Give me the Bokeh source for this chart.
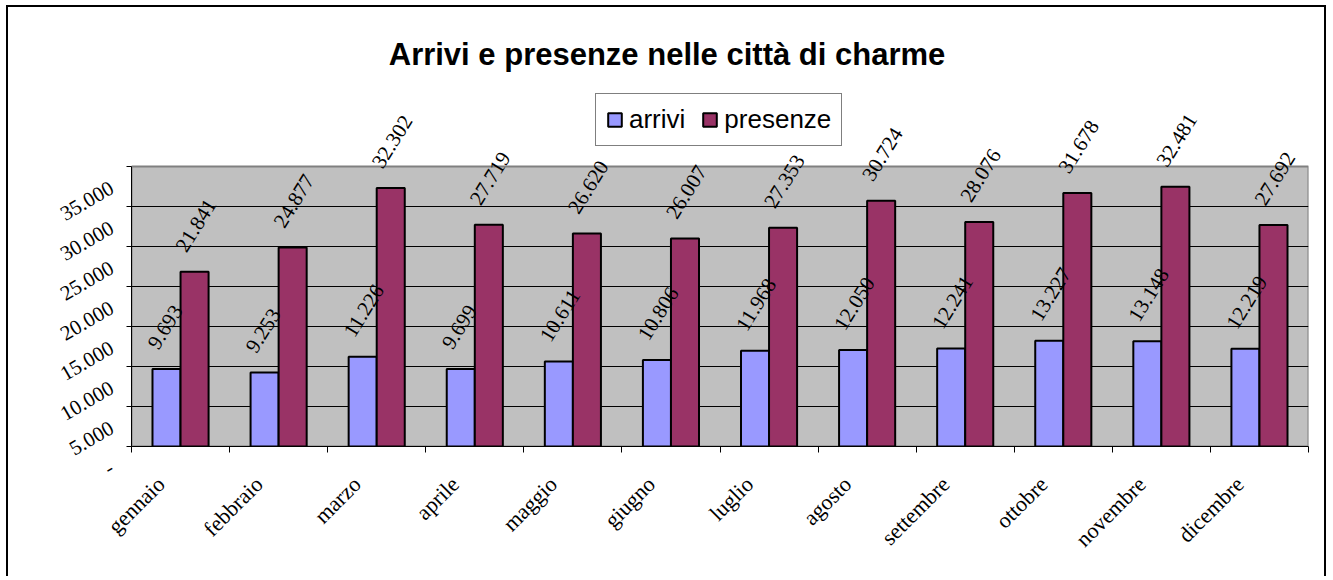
import math
from bokeh.plotting import figure
from bokeh.models import (Range1d, FixedTicker, ColumnDataSource, Legend, LegendItem,
                          LabelSet, Label)
from bokeh.embed import file_html
from bokeh.resources import INLINE

# ---------------- data ----------------
months = ["gennaio", "febbraio", "marzo", "aprile", "maggio", "giugno",
          "luglio", "agosto", "settembre", "ottobre", "novembre", "dicembre"]
arrivi = [9693, 9253, 11226, 9699, 10611, 10806, 11968, 12050, 12241, 13227, 13148, 12219]
presenze = [21841, 24877, 32302, 27719, 26620, 26007, 27353, 30724, 28076, 31678, 32481, 27692]
arrivi_labels = ["9.693", "9.253", "11.226", "9.699", "10.611", "10.806",
                 "11.968", "12.050", "12.241", "13.227", "13.148", "12.219"]
presenze_labels = ["21.841", "24.877", "32.302", "27.719", "26.620", "26.007",
                   "27.353", "30.724", "28.076", "31.678", "32.481", "27.692"]
y_ticks = [0, 5000, 10000, 15000, 20000, 25000, 30000, 35000]
y_tick_labels = ["-", "5.000", "10.000", "15.000", "20.000", "25.000", "30.000", "35.000"]
title_text = "Arrivi e presenze nelle città di charme"

# ---------------- layout ----------------
W, H = 1320, 571
FRAME_H = 439            # frame spans the canvas from top to the x axis
PX_PER_UNIT = 40 / 5000  # 40 px per 5.000
n = len(months)
y_max = y_ticks[-1]
centers = [i + 0.5 for i in range(n)]
label_pos = [c - 0.2 for c in centers]
bar_w = 0.286
x_arr = [c - bar_w / 2 for c in centers]
x_pre = [c + bar_w / 2 for c in centers]

p = figure(width=W, height=H, output_backend="svg", toolbar_location=None,
           x_range=Range1d(0, n), y_range=Range1d(0, FRAME_H / PX_PER_UNIT),
           min_border_left=123, min_border_right=20, min_border_top=0,
           min_border_bottom=H - FRAME_H, title=None)
p.styles = {"margin": "5px 0 0 6px",
            "border-top": "2px solid black", "border-left": "2px solid black",
            "border-right": "2px solid black"}

p.background_fill_color = "white"
p.border_fill_color = "white"
p.outline_line_color = None

# grey plot area
p.quad(left=0, right=n, bottom=0, top=y_max, fill_color="#C0C0C0",
       line_color="#808080", line_width=2, level="image")

src_a = ColumnDataSource(dict(x=x_arr, top=arrivi, lab=arrivi_labels))
src_p = ColumnDataSource(dict(x=x_pre, top=presenze, lab=presenze_labels))

r1 = p.vbar(x="x", top="top", width=bar_w, bottom=0, source=src_a,
            fill_color="#9999FF", line_color="black", line_width=2)
r2 = p.vbar(x="x", top="top", width=bar_w, bottom=0, source=src_p,
            fill_color="#993366", line_color="black", line_width=2)

# grid
p.xgrid.visible = False
p.ygrid.ticker = FixedTicker(ticks=y_ticks[1:-1])
p.ygrid.grid_line_color = "black"
p.ygrid.grid_line_width = 1

# y axis
p.yaxis.bounds = (0, y_max)
p.yaxis.ticker = FixedTicker(ticks=y_ticks)
p.yaxis.major_label_overrides = {t: "\n" + l for t, l in zip(y_ticks, y_tick_labels)}
p.yaxis.major_label_text_line_height = 1.9
p.yaxis.major_label_orientation = math.radians(30)
p.yaxis.major_label_text_font = "Liberation Serif"
p.yaxis.major_label_text_font_size = "21px"
p.yaxis.major_label_text_color = "black"
p.yaxis.major_tick_out = 5
p.yaxis.major_tick_in = 0
p.yaxis.minor_tick_line_color = None
p.yaxis.axis_line_color = "black"
p.yaxis.major_tick_line_color = "black"
p.yaxis.major_label_standoff = 26

# x axis
p.xaxis.ticker = FixedTicker(ticks=label_pos, minor_ticks=list(range(n + 1)))
p.xaxis.major_label_overrides = {c: m for c, m in zip(label_pos, months)}
p.xaxis.major_label_orientation = math.radians(45)
p.xaxis.major_label_text_font = "Liberation Serif"
p.xaxis.major_label_text_font_size = "22px"
p.xaxis.major_label_text_color = "black"
p.xaxis.major_tick_out = 0
p.xaxis.major_tick_in = 0
p.xaxis.major_tick_line_color = None
p.xaxis.minor_tick_out = 6
p.xaxis.minor_tick_in = 0
p.xaxis.minor_tick_line_color = "black"
p.xaxis.axis_line_color = "black"
p.xaxis.major_label_standoff = 28

# data labels
for src in (src_a, src_p):
    ls = LabelSet(x="x", y="top", text="lab", source=src, angle=58, angle_units="deg",
                  x_offset=-14, y_offset=22, text_align="left", text_baseline="middle",
                  text_font="Liberation Serif", text_font_size="21px", text_color="black")
    p.add_layout(ls)

# title
p.add_layout(Label(x=n / 2, y=y_max, x_offset=-53, y_offset=112, text=title_text,
                   text_align="center", text_baseline="alphabetic",
                   text_font="Liberation Sans", text_font_size="31px",
                   text_font_style="bold", text_color="black"))

# legend
legend = Legend(items=[LegendItem(label="arrivi", renderers=[r1]),
                       LegendItem(label="presenze", renderers=[r2])],
                orientation="horizontal", location=(464, 300),
                label_text_font="Liberation Sans", label_text_font_size="26px",
                label_text_color="black",
                glyph_width=17, glyph_height=17, label_standoff=6, spacing=16,
                padding=10, margin=0, border_line_color="black", border_line_width=1,
                background_fill_color="white", background_fill_alpha=1)
p.add_layout(legend, "center")

open("out.html", "w").write(file_html(p, INLINE))
